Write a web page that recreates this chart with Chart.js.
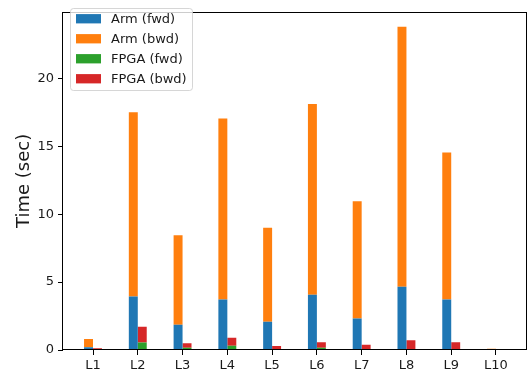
<!DOCTYPE html>
<html>
<head>
<meta charset="utf-8">
<script src="https://cdn.jsdelivr.net/npm/chart.js@4/dist/chart.umd.min.js"></script>
<style>
  html, body { margin: 0; padding: 0; background: #fff; }
  #wrap { width: 529px; height: 377px; }
</style>
</head>
<body>
<div id="wrap"><canvas id="c" width="529" height="377"></canvas></div>
<script>
// Layers L1..L10: forward / backward time per layer, Arm vs FPGA
const categories = ['L1', 'L2', 'L3', 'L4', 'L5', 'L6', 'L7', 'L8', 'L9', 'L10'];
const armFwd  = [0.20, 3.94, 1.86, 3.72, 2.08, 4.06, 2.31, 4.66, 3.72, 0.02];
const armBwd  = [0.61, 13.56, 6.59, 13.33, 6.92, 14.06, 8.65, 19.14, 10.82, 0.08];
const fpgaFwd = [0.03, 0.55, 0.17, 0.31, 0.05, 0.16, 0.03, 0.07, 0.03, 0.00];
const fpgaBwd = [0.09, 1.17, 0.33, 0.60, 0.24, 0.41, 0.35, 0.65, 0.54, 0.00];
const yTicks  = [0, 5, 10, 15, 20];

const COLORS = { armFwd: '#1f77b4', armBwd: '#ff7f0e', fpgaFwd: '#2ca02c', fpgaBwd: '#d62728' };

const toPoints = arr => arr.map((v, i) => ({ x: i, y: v }));

Chart.defaults.font.family = "'DejaVu Sans', sans-serif";
Chart.defaults.color = '#1a1a1a';

const datasets = [
  { label: 'Arm (fwd)',  data: toPoints(armFwd),  backgroundColor: COLORS.armFwd,  stack: 'arm' },
  { label: 'Arm (bwd)',  data: toPoints(armBwd),  backgroundColor: COLORS.armBwd,  stack: 'arm' },
  { label: 'FPGA (fwd)', data: toPoints(fpgaFwd), backgroundColor: COLORS.fpgaFwd, stack: 'fpga' },
  { label: 'FPGA (bwd)', data: toPoints(fpgaBwd), backgroundColor: COLORS.fpgaBwd, stack: 'fpga' }
].map(d => Object.assign(d, { borderWidth: 0, categoryPercentage: 0.4, barPercentage: 1.0 }));

// Box around the whole plot area
const frame = {
  id: 'frame',
  afterDatasetsDraw(chart) {
    const { ctx, chartArea: a } = chart;
    ctx.save();
    ctx.strokeStyle = '#000';
    ctx.lineWidth = 1;
    ctx.strokeRect(Math.round(a.left) - 0.5, Math.round(a.top) + 0.5,
                   Math.round(a.right - a.left) + 1, Math.round(a.bottom - a.top) - 1);
    ctx.restore();
  }
};

// Framed legend in the upper-left corner of the plot
const boxLegend = {
  id: 'boxLegend',
  afterDraw(chart) {
    const { ctx, chartArea: a } = chart;
    const x0 = a.left + 7.5, y0 = 8.5, w = 122, h = 82, r = 3;
    ctx.save();
    ctx.beginPath();
    ctx.roundRect(x0, y0, w, h, r);
    ctx.fillStyle = 'rgba(255,255,255,0.8)';
    ctx.fill();
    ctx.strokeStyle = 'rgba(204,204,204,0.8)';
    ctx.lineWidth = 1;
    ctx.stroke();
    ctx.font = "13px 'DejaVu Sans'";
    ctx.textBaseline = 'middle';
    ctx.textAlign = 'left';
    chart.data.datasets.forEach((ds, i) => {
      const cy = 18.7 + i * 20;
      ctx.fillStyle = ds.backgroundColor;
      ctx.fillRect(x0 + 5.5, cy - 4.6, 25, 9.3);
      ctx.fillStyle = '#1a1a1a';
      ctx.fillText(ds.label, x0 + 40.5, cy + 0.5);
    });
    ctx.restore();
  }
};

new Chart(document.getElementById('c'), {
  type: 'bar',
  data: { datasets },
  plugins: [frame, boxLegend],
  options: {
    responsive: false,
    animation: false,
    devicePixelRatio: 1,
    layout: { padding: { top: 2, right: 3, left: 0, bottom: 0 } },
    plugins: { legend: { display: false }, tooltip: { enabled: false } },
    scales: {
      x: {
        type: 'linear',
        min: -0.67,
        max: 9.67,
        offset: false,
        border: { display: false },
        grid: { offset: false, drawOnChartArea: false, drawTicks: true, tickLength: 5, color: '#000' },
        afterBuildTicks: s => { s.ticks = categories.map((_, i) => ({ value: i })); },
        afterFit: s => { s.height = 27; },
        ticks: {
          autoSkip: false,
          maxRotation: 0,
          padding: 3,
          font: { size: 13 },
          callback: v => categories[v]
        }
      },
      y: {
        stacked: true,
        min: 0,
        max: 24.9,
        border: { display: false },
        grid: { drawOnChartArea: false, drawTicks: true, tickLength: 5, color: '#000' },
        afterBuildTicks: s => { s.ticks = yTicks.map(v => ({ value: v })); },
        afterFit: s => { s.width = 63; },
        ticks: { padding: 4, font: { size: 13 } },
        title: {
          display: true,
          text: 'Time (sec)',
          font: { size: 18 },
          padding: { top: 14, bottom: 0 }
        }
      }
    }
  }
});
</script>
</body>
</html>
